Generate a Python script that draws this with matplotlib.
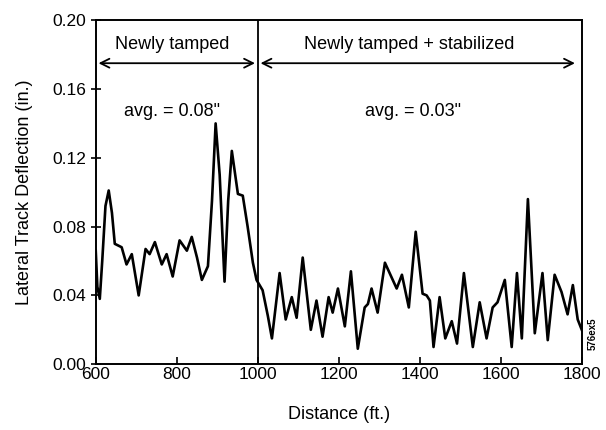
import numpy as np
import matplotlib.pyplot as plt

plt.rcParams['font.family'] = ['Liberation Sans', 'DejaVu Sans']

# newly tamped section
dist_tamped = [600, 604, 610, 616, 624, 632, 640, 647, 664, 676, 689, 706, 723, 733,
               746, 763, 775, 790, 807, 825, 837, 850, 862, 877, 887, 896, 906, 918,
               927, 936, 951, 963, 975, 988, 997]
defl_tamped = [0.066, 0.045, 0.038, 0.060, 0.092, 0.101, 0.088, 0.070, 0.068, 0.058, 0.064,
               0.040, 0.067, 0.064, 0.071, 0.058, 0.064, 0.051, 0.072, 0.066, 0.074, 0.062,
               0.049, 0.057, 0.095, 0.140, 0.110, 0.048, 0.095, 0.124, 0.099, 0.098, 0.080,
               0.059, 0.049]

# newly tamped + stabilized section
dist_stab = [1012, 1025, 1035, 1045, 1054, 1069, 1084, 1096, 1111, 1131, 1145, 1160, 1175,
             1185, 1198, 1215, 1230, 1247, 1264, 1272, 1281, 1296, 1314, 1343, 1356, 1373,
             1390, 1407, 1417, 1425, 1434, 1449, 1463, 1479, 1492, 1509, 1531, 1548, 1565,
             1580, 1592, 1610, 1627, 1640, 1652, 1667, 1684, 1703, 1716, 1733, 1750, 1765,
             1778, 1790, 1800]
defl_stab = [0.043, 0.028, 0.015, 0.035, 0.053, 0.026, 0.039, 0.027, 0.062, 0.020, 0.037,
             0.016, 0.039, 0.030, 0.044, 0.022, 0.054, 0.009, 0.033, 0.035, 0.044, 0.030,
             0.059, 0.044, 0.052, 0.033, 0.077, 0.041, 0.040, 0.037, 0.010, 0.039, 0.015,
             0.025, 0.012, 0.053, 0.010, 0.036, 0.015, 0.033, 0.036, 0.049, 0.010, 0.053,
             0.015, 0.096, 0.018, 0.053, 0.014, 0.052, 0.042, 0.029, 0.046, 0.026, 0.020]

dist = np.array(dist_tamped + dist_stab)
defl = np.array(defl_tamped + defl_stab)

fig = plt.figure(figsize=(6.06, 4.30), dpi=100)
ax = fig.add_axes([0.158, 0.153, 0.802, 0.8])

ax.plot(dist, defl, color='black', lw=1.9, solid_joinstyle='round')
ax.axvline(1000, color='black', lw=1.3)

ax.set_xlim(600, 1800)
ax.set_ylim(0, 0.20)
ax.set_xticks(np.arange(600, 1801, 200))
ax.set_yticks(np.arange(0, 0.201, 0.04))
ax.set_yticklabels(['0.00', '0.04', '0.08', '0.12', '0.16', '0.20'])
ax.tick_params(axis='both', labelsize=12.5, colors='black', width=1.2)
ax.tick_params(axis='y', direction='inout', length=7)
ax.tick_params(axis='x', direction='in', length=5, pad=2)
for s in ax.spines.values():
    s.set_linewidth(1.4)

ax.set_xlabel('Distance (ft.)', fontsize=13, labelpad=17)
ax.set_ylabel('Lateral Track Deflection (in.)', fontsize=13, labelpad=14)

# section arrows
ax.annotate('', xy=(600, 0.175), xytext=(1000, 0.175),
            arrowprops=dict(arrowstyle='<->', lw=1.3, color='black', mutation_scale=16))
ax.annotate('', xy=(1000, 0.175), xytext=(1790, 0.175),
            arrowprops=dict(arrowstyle='<->', lw=1.3, color='black', mutation_scale=16))
ax.text(788, 0.186, 'Newly tamped', ha='center', va='center', fontsize=13)
ax.text(1373, 0.186, 'Newly tamped + stabilized', ha='center', va='center', fontsize=13)
ax.text(788, 0.147, 'avg. = 0.08"', ha='center', va='center', fontsize=13)
ax.text(1383, 0.147, 'avg. = 0.03"', ha='center', va='center', fontsize=13)

fig.text(0.978, 0.225, '576ex5', rotation=90, ha='center', va='center',
         fontsize=7, fontweight='bold')

fig.savefig('out.png', dpi=100)
